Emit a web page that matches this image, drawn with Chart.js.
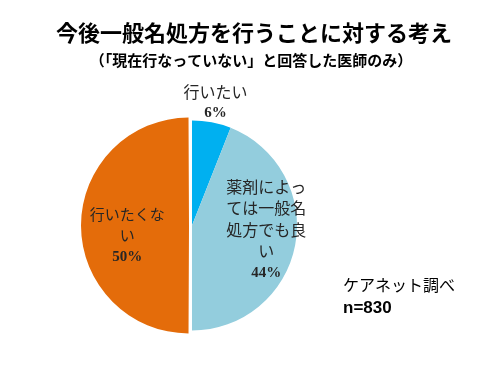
<!DOCTYPE html>
<html>
<head>
<meta charset="utf-8">
<script src="https://cdn.jsdelivr.net/npm/chart.js@4/dist/chart.umd.min.js"></script>
<style>
html,body{margin:0;padding:0;background:#fff;}
canvas{display:block;}
</style>
</head>
<body>
<canvas id="c" width="504" height="379"></canvas>
<script>
const titleText = '今後一般名処方を行うことに対する考え';
const subtitleText = '（「現在行なっていない」と回答した医師のみ）';
const categories = ['行いたい', '薬剤によっては一般名処方でも良い', '行いたくない'];
const values = [6, 44, 50];
const labelLines = [['行いたい'], ['薬剤によっ', 'ては一般名', '処方でも良', 'い'], ['行いたくな', 'い']];
const sourceLines = ['ケアネット調べ', 'n=830'];
const colors = ['#00B0F0', '#93CDDD', '#E46C0A'];
const offsets = [0, 0, 12];
const labelPlace = [{f: 1.19, dy: 0, fs: 16}, {f: 0.72, dy: -10, fs: 16}, {f: 0.56, dy: 10, fs: 15}];

const JP = '"Noto Sans CJK JP", "Noto Sans", sans-serif';

const textPlugin = {
  id: 'texts',
  afterDatasetsDraw(chart) {
    const ctx = chart.ctx;
    ctx.save();
    ctx.textAlign = 'center';
    ctx.textBaseline = 'middle';
    ctx.fillStyle = '#000';
    ctx.font = 'bold 22px ' + JP;
    ctx.fillText(titleText, 254, 33);
    ctx.font = 'bold 15px ' + JP;
    ctx.fillText(subtitleText, 251, 60);

    const meta = chart.getDatasetMeta(0);
    meta.data.forEach((el, i) => {
      const mid = (el.startAngle + el.endAngle) / 2;
      const circ = el.endAngle - el.startAngle;
      const disp = offsets[i] / 4 * (2 - Math.sin(Math.min(Math.PI, circ)));
      const r = el.outerRadius * labelPlace[i].f + disp;
      const cx = el.x + Math.cos(mid) * r;
      const cy = el.y + Math.sin(mid) * r + labelPlace[i].dy;
      const lines = labelLines[i];
      const lh = 21.5;
      const n = lines.length + 1;
      let y0 = cy - (n - 1) * lh / 2;
      ctx.fillStyle = '#262626';
      ctx.font = labelPlace[i].fs + 'px ' + JP;
      lines.forEach((t, k) => ctx.fillText(t, cx, y0 + k * lh));
      ctx.font = 'bold 15px "Liberation Serif", serif';
      ctx.fillText(values[i] + '%', cx, y0 + lines.length * lh);
    });

    ctx.textAlign = 'left';
    ctx.fillStyle = '#000';
    ctx.font = '16px ' + JP;
    ctx.fillText(sourceLines[0], 343, 285);
    ctx.font = 'bold 17px "Liberation Sans", sans-serif';
    ctx.fillText(sourceLines[1], 343, 308);
    ctx.restore();
  }
};

new Chart(document.getElementById('c'), {
  type: 'pie',
  data: {
    labels: categories,
    datasets: [{
      data: values,
      backgroundColor: colors,
      borderWidth: 0,
      offset: offsets,
      hoverOffset: 0
    }]
  },
  options: {
    responsive: false,
    animation: false,
    radius: 105,
    layout: {padding: {left: 82, right: 202, top: 116, bottom: 44}},
    plugins: {legend: {display: false}, tooltip: {enabled: false}, title: {display: false}},
    events: []
  },
  plugins: [textPlugin]
});
</script>
</body>
</html>
